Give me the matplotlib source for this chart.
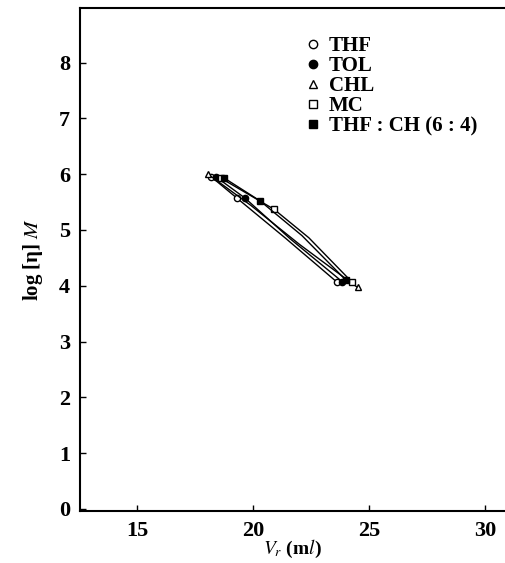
import matplotlib
matplotlib.use('Agg')
import matplotlib.pyplot as plt

plt.rcParams['font.family'] = ['Liberation Serif', 'DejaVu Serif']
plt.rcParams['mathtext.fontset'] = 'stix'

# values: retention volume (ml) and log [eta] M
thf_v = [18.2, 19.3, 21.4, 23.6]
thf_m = [5.95, 5.57, 4.85, 4.07]
tol_v = [18.4, 19.65, 21.6, 23.85]
tol_m = [5.95, 5.57, 4.84, 4.07]
chl_v = [18.05, 19.9, 22.0, 24.5]
chl_m = [6.0, 5.44, 4.74, 3.97]
mc_v = [18.6, 20.9, 22.4, 24.25]
mc_m = [5.93, 5.37, 4.86, 4.07]
thfch_v = [18.75, 20.3, 22.1, 24.0]
thfch_m = [5.93, 5.52, 4.9, 4.1]

labels = ['THF', 'TOL', 'CHL', 'MC', 'THF : CH (6 : 4)']

fig = plt.figure(figsize=(5.05, 5.63), dpi=100)
ax = fig.add_axes([0.158, 0.092, 0.842, 0.894])

ax.plot(thf_v, thf_m, '-', color='black', lw=1, marker='o', ms=4.5,
        mfc='white', mec='black', markevery=[0, 1, 3], label=labels[0])
ax.plot(tol_v, tol_m, '-', color='black', lw=1, marker='o', ms=4.5,
        mfc='black', mec='black', markevery=[0, 1, 3], label=labels[1])
ax.plot(chl_v, chl_m, '-', color='black', lw=1, marker='^', ms=4.5,
        mfc='white', mec='black', markevery=[0, 3], label=labels[2])
ax.plot(mc_v, mc_m, '-', color='black', lw=1, marker='s', ms=4.5,
        mfc='white', mec='black', markevery=[0, 1, 3], label=labels[3])
ax.plot(thfch_v, thfch_m, '-', color='black', lw=1, marker='s', ms=4.5,
        mfc='black', mec='black', markevery=[0, 1, 3], label=labels[4])

ax.set_xlim(12.52, 30.86)
ax.set_ylim(-0.04, 8.98)
ax.set_xticks([15, 20, 25, 30])
ax.set_yticks(range(0, 9))
ax.tick_params(direction='in', length=4, width=1, labelsize=16, pad=7)
for t in ax.get_xticklabels() + ax.get_yticklabels():
    t.set_fontweight('bold')
ax.spines['right'].set_visible(False)
for s in ['left', 'bottom', 'top']:
    ax.spines[s].set_linewidth(1.5)

ax.set_xlabel(r'$V_r$ (m$l$)', fontsize=14, fontweight='bold', labelpad=-2)
ax.set_ylabel(r'log [η] $M$', fontsize=15, fontweight='bold', labelpad=10)

leg = ax.legend(loc='upper left', bbox_to_anchor=(0.515, 0.96), frameon=False,
                fontsize=15, handlelength=0.6, handletextpad=0.45,
                labelspacing=0.0, borderaxespad=0)
for h in leg.legend_handles:
    h.set_linestyle('None')
    h.set_markersize(6)
for t in leg.get_texts():
    t.set_fontweight('bold')

fig.savefig('out.png', dpi=100)
